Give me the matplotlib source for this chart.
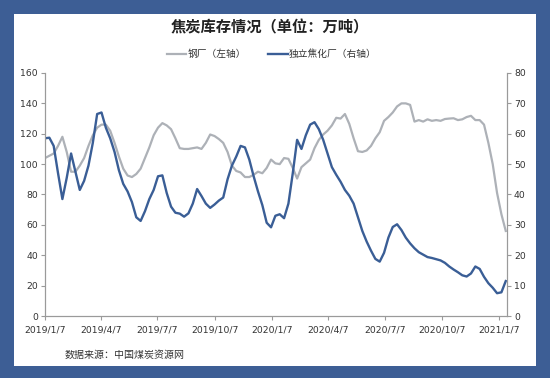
import matplotlib
matplotlib.use("Agg")
import matplotlib.pyplot as plt
from matplotlib.patches import Rectangle
import pandas as pd

# ---------------- data ----------------
dates = pd.date_range("2019-01-07", periods=107, freq="7D")

steel_mills = [  # 钢厂（左轴）
    104, 105.5, 107, 112, 118, 108, 95, 95, 99, 104,
    112, 119, 124, 126, 126, 122, 114, 105, 97, 92.5,
    91.5, 93.5, 97, 104, 111, 119, 124, 127, 125.5, 123,
    117, 110.5, 110, 110, 110.5, 111, 110, 114, 119.5, 118.5,
    116.5, 114, 108, 99, 95.5, 94.5, 91.5, 91.5, 93, 95,
    94, 97.5, 103, 100.5, 100, 104, 103.5, 97.5, 90.5, 98,
    100.5, 103, 110.5, 116, 119.5, 122, 125.5, 130.5, 130, 133,
    126.5, 117, 108.5, 108, 109, 112, 117, 121, 128.5, 131,
    134, 138, 140, 140, 139, 128, 129, 128, 129.5, 128.5,
    129, 128.5, 129.7, 130, 130.2, 129, 129.5, 131, 131.8, 129,
    129, 126, 114, 100, 81, 67, 56,
]

coking_plants = [  # 独立焦化厂（右轴）
    58.5, 58.7, 56, 47, 38.5, 45.5, 53.5, 47.5, 41.5, 44.5,
    49.5, 57, 66.5, 67, 62, 58.5, 54, 48, 43.5, 41,
    37.5, 32.5, 31.3, 34.5, 38.5, 41.5, 46, 46.3, 40.5, 36,
    34, 33.7, 32.7, 33.8, 37, 41.8, 39.5, 37, 35.6, 36.7,
    38, 39, 45, 49.5, 52.5, 56, 55.5, 51.5, 46, 41,
    36.5, 30.7, 29.2, 33, 33.5, 32.2, 37, 47, 58, 55,
    59.5, 63, 63.8, 61.5, 58, 53.5, 49, 46.5, 44.2, 41.5,
    39.6, 37, 32.5, 28, 24.5, 21.5, 18.8, 17.9, 20.8, 25.8,
    29.3, 30.2, 28.3, 25.8, 23.9, 22.3, 21, 20.2, 19.4, 19.1,
    18.7, 18.3, 17.5, 16.3, 15.3, 14.4, 13.4, 13, 14, 16.3,
    15.5, 12.9, 10.8, 9.3, 7.5, 7.8, 11.5,
]

x_tick_dates = ["2019-01-07", "2019-04-07", "2019-07-07", "2019-10-07",
                "2020-01-07", "2020-04-07", "2020-07-07", "2020-10-07",
                "2021-01-07"]
x_tick_labels = ["2019/1/7", "2019/4/7", "2019/7/7", "2019/10/7",
                 "2020/1/7", "2020/4/7", "2020/7/7", "2020/10/7",
                 "2021/1/7"]
left_ticks = [0, 20, 40, 60, 80, 100, 120, 140, 160]
right_ticks = [0, 10, 20, 30, 40, 50, 60, 70, 80]

title = "焦炭库存情况（单位：万吨）"
label_steel = "钢厂（左轴）"
label_coke = "独立焦化厂（右轴）"
source = "数据来源：中国煤炭资源网"

# ---------------- style ----------------
plt.rcParams["font.family"] = ["Noto Sans CJK SC", "DejaVu Sans"]
W, H = 550, 378
border_color = "#3D5E95"
gray_color = "#ADB1B7"
blue_color = "#3A5E96"
axis_color = "#9A9A9A"
text_color = "#333333"

fig = plt.figure(figsize=(W / 100, H / 100), dpi=100)
fig.patch.set_facecolor(border_color)
fig.patches.append(Rectangle((14 / W, 1 - 366 / H), (536 - 14) / W, (366 - 14) / H,
                             transform=fig.transFigure, facecolor="white",
                             edgecolor="none", zorder=-10))

x0, x1, ytop, ybot = 45, 507, 73, 316
ax = fig.add_axes([x0 / W, 1 - ybot / H, (x1 - x0) / W, (ybot - ytop) / H])
ax.set_facecolor("none")
ax2 = ax.twinx()
ax2.set_facecolor("none")

ax.plot(dates, steel_mills, color=gray_color, lw=1.6, solid_joinstyle="round")
ax2.plot(dates, coking_plants, color=blue_color, lw=1.7, solid_joinstyle="round")

ax.set_ylim(0, 160)
ax2.set_ylim(0, 80)
ax.set_yticks(left_ticks)
ax2.set_yticks(right_ticks)
ax.set_xlim(pd.Timestamp("2019-01-07"), pd.Timestamp("2021-01-20"))
ax.set_xticks(pd.to_datetime(x_tick_dates))
ax.set_xticklabels(x_tick_labels)

for a in (ax, ax2):
    for s in a.spines.values():
        s.set_color(axis_color)
        s.set_linewidth(0.8)
    a.spines["top"].set_visible(False)
    a.tick_params(colors=axis_color, labelcolor=text_color, labelsize=6.7,
                  length=3, width=0.8, direction="out", pad=2)
    for lab in a.get_yticklabels() + a.get_xticklabels():
        lab.set_family(["DejaVu Sans"])
ax.tick_params(axis="x", pad=4)

fig.text(270 / W, 1 - 27 / H, title, ha="center", va="center",
         fontsize=11, fontweight="bold", color="#222222")

# legend
ly = 1 - 54 / H
fig.add_artist(plt.Line2D([167 / W, 186 / W], [ly, ly], color=gray_color, lw=1.6,
                          transform=fig.transFigure))
fig.text(188 / W, ly, label_steel, ha="left", va="center", fontsize=7, color=text_color)
fig.add_artist(plt.Line2D([268 / W, 288 / W], [ly, ly], color=blue_color, lw=1.7,
                          transform=fig.transFigure))
fig.text(289 / W, ly, label_coke, ha="left", va="center", fontsize=7, color=text_color)

fig.text(65 / W, 1 - 355 / H, source, ha="left", va="center", fontsize=7.2,
         color=text_color)

fig.savefig("out.png", dpi=100, facecolor=fig.get_facecolor())
